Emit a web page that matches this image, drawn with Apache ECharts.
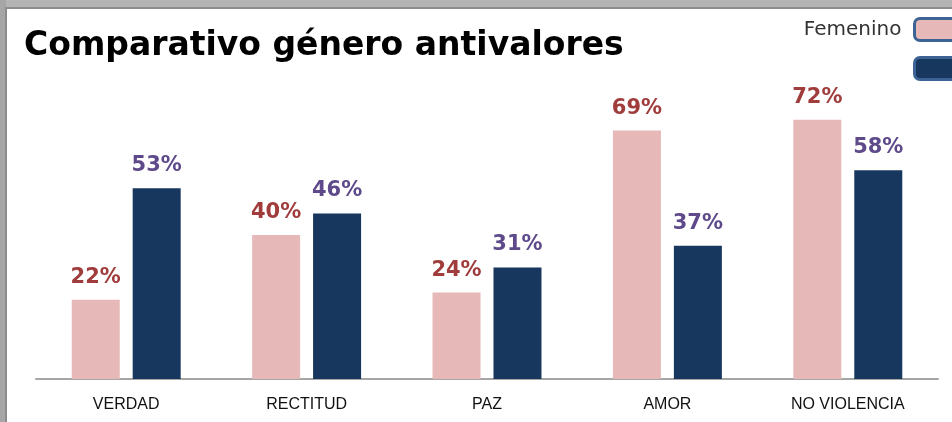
<!DOCTYPE html>
<html>
<head>
<meta charset="utf-8">
<script src="https://cdn.jsdelivr.net/npm/echarts@6/dist/echarts.min.js"></script>
<style>
  html, body { margin: 0; padding: 0; background: #fff; }
  #main { width: 952px; height: 422px; }
</style>
</head>
<body>
<div id="main"></div>
<script>
// datos
var categorias = ['VERDAD', 'RECTITUD', 'PAZ', 'AMOR', 'NO VIOLENCIA'];
var femenino = [22, 40, 24, 69, 72];
var masculino = [53, 46, 31, 37, 58];

var chart = echarts.init(document.getElementById('main'));

var option = {
    backgroundColor: '#fff',
    animation: false,
    title: {
        text: 'Comparativo género antivalores',
        left: 24,
        top: 30,
        padding: 0,
        textStyle: {
            fontFamily: 'DejaVu Sans',
            fontWeight: 'bold',
            fontSize: 33,
            color: '#000'
        }
    },
    legend: {
        orient: 'vertical',
        align: 'right',
        right: -12,
        top: 17,
        padding: 0,
        itemWidth: 48,
        itemHeight: 22,
        itemGap: 14,
        icon: 'roundRect',
        itemStyle: {
            borderColor: '#3d6394',
            borderWidth: 3
        },
        formatter: function (name) {
            return name == 'Femenino' ? name : '';
        },
        textStyle: {
            fontFamily: 'DejaVu Sans',
            fontSize: 20,
            color: '#333',
            padding: [0, 8, 0, 0]
        }
    },
    grid: {
        left: 36,
        right: 14,
        top: 19,
        bottom: 43
    },
    xAxis: {
        type: 'category',
        data: categorias,
        axisTick: { show: false },
        axisLine: {
            lineStyle: { color: '#a6a6a6', width: 2 }
        },
        axisLabel: {
            margin: 18,
            fontFamily: 'Liberation Sans',
            fontSize: 16,
            color: '#111'
        }
    },
    yAxis: {
        type: 'value',
        min: 0,
        max: 100,
        show: false,
        splitLine: { show: false }
    },
    series: [
        {
            name: 'Femenino',
            type: 'bar',
            data: femenino,
            barWidth: 48,
            barGap: '27%',
            itemStyle: { color: '#e6b8b7' },
            label: {
                show: true,
                position: 'top',
                distance: 12,
                formatter: '{c}%',
                fontFamily: 'DejaVu Sans',
                fontWeight: 'bold',
                fontSize: 21,
                color: '#a03c3c'
            }
        },
        {
            name: 'Masculino',
            type: 'bar',
            data: masculino,
            barWidth: 48,
            itemStyle: { color: '#17375e' },
            label: {
                show: true,
                position: 'top',
                distance: 12,
                formatter: '{c}%',
                fontFamily: 'DejaVu Sans',
                fontWeight: 'bold',
                fontSize: 21,
                color: '#5e4a8a'
            }
        }
    ],
    graphic: [
        // marco gris
        { type: 'rect', left: 0, top: 0, shape: { width: 952, height: 8 }, style: { fill: '#b4b4b4' }, z: 100 },
        { type: 'rect', left: 0, top: 7, shape: { width: 952, height: 2 }, style: { fill: '#8c8c8c' }, z: 100 },
        { type: 'rect', left: 0, top: 0, shape: { width: 6, height: 422 }, style: { fill: '#a6a6a6' }, z: 100 },
        { type: 'rect', left: 5, top: 7, shape: { width: 2, height: 415 }, style: { fill: '#8c8c8c' }, z: 100 }
    ]
};

chart.setOption(option);
</script>
</body>
</html>
